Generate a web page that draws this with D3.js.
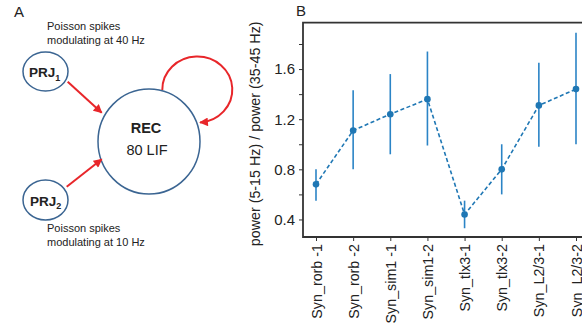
<!DOCTYPE html>
<html>
<head>
<meta charset="UTF-8">
<style>
  body { margin: 0; background: #fff; }
  svg { display: block; font-family: "Liberation Sans", Arial, sans-serif; }
</style>
</head>
<body>
<svg width="582" height="325"></svg>
<script src="https://d3js.org/d3.v7.min.js"></script>
<script>
  const categories = ["Syn_rorb -1", "Syn_rorb -2", "Syn_sim1 -1", "Syn_sim1-2", "Syn_tlx3-1", "Syn_tlx3-2", "Syn_L2/3-1", "Syn_L2/3-2"];
  const means = [0.68, 1.11, 1.24, 1.36, 0.44, 0.80, 1.31, 1.44];
  const errLow = [0.55, 0.80, 0.92, 0.99, 0.33, 0.60, 0.98, 1.00];
  const errHigh = [0.80, 1.43, 1.56, 1.74, 0.55, 1.00, 1.65, 1.89];
  const yTicks = [0.4, 0.6, 0.8, 1.0, 1.2, 1.4, 1.6, 1.8];

  const svg = d3.select("svg");
  const red = "#e8262a", navy = "#3b6592", ink = "#222";

  // ---- panel A: network sketch ----
  svg.append("defs").append("marker")
    .attr("id", "head")
    .attr("viewBox", "0 0 10 10")
    .attr("refX", 9).attr("refY", 5)
    .attr("markerWidth", 5).attr("markerHeight", 4.4)
    .attr("markerUnits", "strokeWidth")
    .attr("orient", "auto")
    .append("path").attr("d", "M0,0 L10,5 L0,10 Z").attr("fill", red);

  const a = svg.append("g");
  a.append("text").attr("x", 14).attr("y", 17).attr("font-size", 15).attr("fill", ink).text("A");

  const nodes = [
    { cx: 45.5, cy: 71.5, rx: 22.5, ry: 19.5 },
    { cx: 45.5, cy: 200, rx: 22.5, ry: 20 },
    { cx: 149, cy: 141.5, rx: 51, ry: 52.5 }
  ];
  a.selectAll("ellipse").data(nodes).enter().append("ellipse")
    .attr("cx", d => d.cx).attr("cy", d => d.cy)
    .attr("rx", d => d.rx).attr("ry", d => d.ry)
    .attr("fill", "none").attr("stroke", navy).attr("stroke-width", 1.5);

  const arrows = [
    "M67.7,81.7 L101.7,112.7",
    "M66.7,186.7 L101.7,159.3",
    "M162.3,90 A35,33 0 1 1 200,122.5"
  ];
  a.selectAll("path.arr").data(arrows).enter().append("path")
    .attr("class", "arr").attr("d", d => d)
    .attr("fill", "none").attr("stroke", red).attr("stroke-width", 2)
    .attr("marker-end", "url(#head)");

  const prj = [{ x: 29, y: 77, sub: "1" }, { x: 30, y: 205.5, sub: "2" }];
  prj.forEach(p => {
    const t = a.append("text").attr("x", p.x).attr("y", p.y)
      .attr("font-size", 13.5).attr("font-weight", "bold").attr("fill", ink);
    t.append("tspan").text("PRJ");
    t.append("tspan").attr("font-size", 9).attr("dy", 3.5).text(p.sub);
  });

  a.append("text").attr("x", 146).attr("y", 132.5).attr("text-anchor", "middle")
    .attr("font-size", 14.5).attr("font-weight", "bold").attr("fill", ink).text("REC");
  a.append("text").attr("x", 147).attr("y", 155).attr("text-anchor", "middle")
    .attr("font-size", 14.5).attr("fill", ink).text("80 LIF");

  const notes = [
    { y: 30, t: "Poisson spikes" }, { y: 43.5, t: "modulating at 40 Hz" },
    { y: 232, t: "Poisson spikes" }, { y: 245.5, t: "modulating at 10 Hz" }
  ];
  a.selectAll("text.note").data(notes).enter().append("text")
    .attr("class", "note").attr("x", 47).attr("y", d => d.y)
    .attr("font-size", 11).attr("fill", ink).text(d => d.t);

  // ---- panel B: ratio chart ----
  const pLeft = 303, pRight = 589, pTop = 22.7, pBottom = 237;
  const x = d3.scalePoint().domain(categories).range([pLeft, pRight]).padding(0.35);
  const y = d3.scaleLinear().domain([0.26, 1.97]).range([pBottom, pTop]);

  svg.append("text").attr("x", 296).attr("y", 16).attr("font-size", 15).attr("fill", ink).text("B");

  const yAxis = svg.append("g").attr("transform", `translate(${pLeft},0)`)
    .call(d3.axisLeft(y).tickValues(yTicks).tickSize(4).tickPadding(4)
      .tickFormat(d => (Math.round(d * 10) % 4 === 0 ? d3.format(".1f")(d) : "")));
  yAxis.select(".domain").remove();
  yAxis.selectAll("line").attr("stroke", "#333").attr("stroke-width", 1);
  yAxis.selectAll("text").attr("font-size", 15).attr("fill", ink).attr("font-family", "Liberation Sans, Arial, sans-serif");

  const xAxis = svg.append("g").attr("transform", `translate(0,${pBottom})`)
    .call(d3.axisBottom(x).tickSize(4).tickPadding(4));
  xAxis.select(".domain").remove();
  xAxis.selectAll("line").attr("stroke", "#333").attr("stroke-width", 1);
  xAxis.selectAll("text")
    .attr("font-size", 14.3).attr("fill", ink).attr("font-family", "Liberation Sans, Arial, sans-serif")
    .attr("text-anchor", "end")
    .attr("transform", "rotate(-90)")
    .attr("x", -7).attr("y", 0).attr("dy", "0.35em");

  // frame
  svg.append("path")
    .attr("d", `M${pRight + 10},${pTop} L${pLeft},${pTop} L${pLeft},${pBottom} L${pRight + 10},${pBottom}`)
    .attr("fill", "none").attr("stroke", "#333").attr("stroke-width", 1.8);

  svg.append("text")
    .attr("transform", `translate(260,${(pTop + 245) / 2}) rotate(-90)`)
    .attr("text-anchor", "middle").attr("font-size", 14.3).attr("fill", ink)
    .text("power (5-15 Hz) / power (35-45 Hz)");

  const rows = categories.map((c, i) => ({ c, m: means[i], lo: errLow[i], hi: errHigh[i] }));

  svg.append("g").selectAll("line").data(rows).enter().append("line")
    .attr("x1", d => x(d.c)).attr("x2", d => x(d.c))
    .attr("y1", d => y(d.lo)).attr("y2", d => y(d.hi))
    .attr("stroke", "#2b84c6").attr("stroke-width", 1.6);

  svg.append("path").datum(rows)
    .attr("d", d3.line().x(d => x(d.c)).y(d => y(d.m)))
    .attr("fill", "none").attr("stroke", "#1f77b4").attr("stroke-width", 1.6)
    .attr("stroke-dasharray", "4,2.5");

  svg.append("g").selectAll("circle").data(rows).enter().append("circle")
    .attr("cx", d => x(d.c)).attr("cy", d => y(d.m)).attr("r", 3.3)
    .attr("fill", "#1f77b4");
</script>
</body>
</html>
